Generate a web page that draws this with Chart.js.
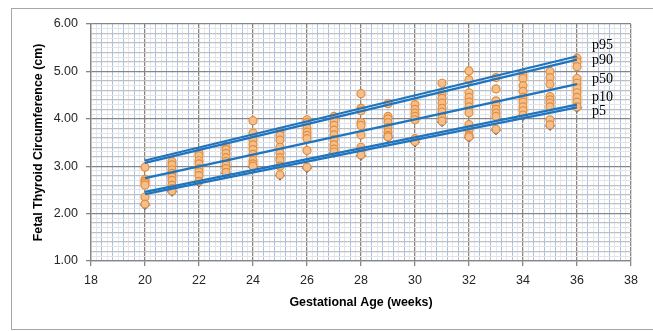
<!DOCTYPE html>
<html><head><meta charset="utf-8">
<script src="https://cdn.jsdelivr.net/npm/chart.js@4.4.1/dist/chart.umd.min.js"></script>
<style>
html,body{margin:0;padding:0;background:#fff;}
#wrap{position:relative;width:653px;height:331px;overflow:hidden;}
#frame{position:absolute;left:11px;top:8px;width:720px;height:320px;border:1px solid #A6A6A6;pointer-events:none;}
</style></head><body>
<div id="wrap"><canvas id="c" width="653" height="331"></canvas><div id="frame"></div></div>
<script>
// Gestational weeks (x categories)
const weeks = [20,21,22,23,24,25,26,27,28,29,30,31,32,33,34,35,36];
// Fetal thyroid circumference measurements (cm) per week
const wk20 = [2.98, 2.72, 2.68, 2.64, 2.60, 2.35, 2.20];
const wk21 = [3.10, 3.03, 2.92, 2.85, 2.77, 2.70, 2.60, 2.53, 2.48];
const wk22 = [3.28, 3.22, 3.12, 3.05, 2.95, 2.88, 2.80, 2.68];
const wk23 = [3.42, 3.35, 3.27, 3.18, 3.10, 3.02, 2.95, 2.87];
const wk24 = [3.96, 3.70, 3.55, 3.45, 3.35, 3.25, 3.12, 3.05, 3.00];
const wk25 = [3.73, 3.65, 3.55, 3.40, 3.28, 3.18, 3.12, 3.00, 2.82];
const wk26 = [3.98, 3.92, 3.80, 3.72, 3.65, 3.58, 3.33, 2.98];
const wk27 = [4.05, 3.95, 3.86, 3.76, 3.66, 3.56, 3.45, 3.36, 3.30];
const wk28 = [4.53, 4.22, 4.17, 3.92, 3.86, 3.66, 3.40, 3.32, 3.24];
const wk29 = [4.32, 4.05, 4.00, 3.92, 3.82, 3.72, 3.65, 3.62];
const wk30 = [4.30, 4.20, 4.12, 4.05, 3.98, 3.58, 3.52];
const wk31 = [4.75, 4.53, 4.43, 4.33, 4.22, 4.14, 4.03, 3.95];
const wk32 = [5.01, 4.82, 4.55, 4.45, 4.35, 4.25, 4.13, 3.88, 3.76, 3.65, 3.62];
const wk33 = [4.87, 4.63, 4.38, 4.30, 4.20, 4.12, 4.05, 3.78];
const wk34 = [4.93, 4.85, 4.70, 4.58, 4.45, 4.35, 4.25, 4.17, 4.08];
const wk35 = [5.00, 4.87, 4.73, 4.47, 4.40, 4.33, 4.25, 3.98, 3.87];
const wk36 = [5.28, 5.20, 5.10, 4.85, 4.75, 4.65, 4.55, 4.45, 4.35, 4.25];
const weekValues = [wk20, wk21, wk22, wk23, wk24, wk25, wk26, wk27, wk28, wk29, wk30, wk31, wk32, wk33, wk34, wk35, wk36];
// Second (blue diamond) series, mostly hidden under the circles
const lowValues = [2.18, 2.46, 2.66, 2.85, 2.98, 2.80, 2.96, 3.28, 3.22, 3.60, 3.50, 3.93, 3.60, 3.76, 4.06, 3.85, 4.23];
// Percentile lines (value at week 20 and week 36)
const lineWeeks = [20, 36];
const p95 = [3.12, 5.32];
const p90 = [3.07, 5.25];
const p50 = [2.75, 4.73];
const p10 = [2.46, 4.30];
const p5  = [2.41, 4.24];
const pctNames = ['p95', 'p90', 'p50', 'p10', 'p5'];
const pctLines = [p95, p90, p50, p10, p5];
const pctLabelAt = [5.48, 5.16, 4.76, 4.38, 4.08];
// Axis tick labels
const xTickLabels = ['18','20','22','24','26','28','30','32','34','36','38'];
const yTickLabels = ['1.00','2.00','3.00','4.00','5.00','6.00'];

const scatterPts = [];
weeks.forEach((w, i) => weekValues[i].forEach(v => scatterPts.push({x: w, y: v})));
const lowPts = weeks.map((w, i) => ({x: w, y: lowValues[i]}));

const lineSets = pctLines.map((arr, i) => ({
  label: pctNames[i],
  data: lineWeeks.map((w, j) => ({x: w, y: arr[j]})),
  showLine: true, pointRadius: 0, borderColor: '#1E74BE', borderWidth: 2.25, fill: false
}));

const xMajor = xTickLabels.map(Number);
const yMajor = yTickLabels.map(Number);
const near = (a, b) => Math.abs(a - b) < 1e-6;
const isXMajor = v => xMajor.some(m => near(m, v));
const isYMajor = v => yMajor.some(m => near(m, v));
const isXMid = v => near(Math.round(v / 0.4) * 0.4, v);
const isYMid = v => near(Math.round(v / 0.2) * 0.2, v);

const labelPlugin = {
  id: 'pctLabels',
  afterDatasetsDraw(chart) {
    const {ctx, scales: {x, y}} = chart;
    ctx.save();
    ctx.font = '14px "Liberation Serif"';
    ctx.fillStyle = '#000';
    ctx.textAlign = 'left';
    ctx.textBaseline = 'alphabetic';
    const px = x.getPixelForValue(lineWeeks[1]) + 15;
    pctNames.forEach((n, i) => ctx.fillText(n, px, y.getPixelForValue(pctLabelAt[i])));
    ctx.restore();
  }
};

new Chart(document.getElementById('c'), {
  type: 'scatter',
  data: {
    datasets: [
      ...lineSets,
      { label: 'measured', data: scatterPts, pointStyle: 'circle', pointRadius: 4,
        backgroundColor: '#F5BF8C', borderColor: '#E38D3B', borderWidth: 1.2 },
      { label: 'low', data: lowPts, pointStyle: 'rectRot', pointRadius: 4.5,
        backgroundColor: '#4A6CB0', borderColor: '#3F5F9F', borderWidth: 1 }
    ]
  },
  options: {
    responsive: false, animation: false,
    layout: { padding: { left: 12, right: 22, top: 24, bottom: 0 } },
    plugins: { legend: { display: false }, tooltip: { enabled: false } },
    scales: {
      x: {
        type: 'linear', min: 18, max: 38, z: 0,
        afterBuildTicks: s => { const t = []; for (let k = 0; k <= 100; k++) t.push({value: Math.round((18 + k * 0.2) * 10) / 10}); s.ticks = t; },
        afterFit: s => { s.height = 70; },
        ticks: { autoSkip: false, maxRotation: 0, padding: 7, color: '#262626',
          font: { family: 'Liberation Sans', size: 12.5 },
          callback: v => isXMajor(v) ? xTickLabels[xMajor.findIndex(m => near(m, v))] : '' },
        grid: {
          color: c => !c.tick ? '#868686' : isXMajor(c.tick.value) ? '#868686' : isXMid(c.tick.value) ? '#A9C2EA' : '#E1E9F6',
          lineWidth: c => (c.tick && isXMajor(c.tick.value)) ? 1.3 : 1,
          tickColor: c => (c.tick && isXMajor(c.tick.value)) ? '#868686' : 'rgba(0,0,0,0)',
          tickLength: 5
        },
        border: { display: true, color: '#868686', width: 1.3 },
        title: { display: true, text: 'Gestational Age (weeks)', color: '#000',
          font: { family: 'Liberation Sans', size: 12.4, weight: 'bold' }, padding: { top: 0, bottom: 20.5 } }
      },
      y: {
        type: 'linear', min: 1, max: 6, z: -1,
        afterBuildTicks: s => { const t = []; for (let k = 0; k <= 50; k++) t.push({value: Math.round((1 + k * 0.1) * 10) / 10}); s.ticks = t; },
        afterFit: s => { s.width = 79; },
        ticks: { autoSkip: false, padding: 8, color: '#262626',
          font: { family: 'Liberation Sans', size: 12.5 },
          callback: v => isYMajor(v) ? yTickLabels[yMajor.findIndex(m => near(m, v))] : '' },
        grid: {
          color: c => !c.tick ? '#868686' : isYMajor(c.tick.value) ? '#868686' : isYMid(c.tick.value) ? '#C0C0C0' : '#E4E4E4',
          lineWidth: c => !c.tick ? 1 : isYMajor(c.tick.value) ? 1.3 : isYMid(c.tick.value) ? 1.3 : 1,
          tickColor: c => (c.tick && isYMajor(c.tick.value)) ? '#868686' : 'rgba(0,0,0,0)',
          tickLength: 5
        },
        border: { display: true, color: '#868686', width: 1.3 },
        title: { display: true, text: 'Fetal Thyroid Circumference (cm)', color: '#000',
          font: { family: 'Liberation Sans', size: 12.4, weight: 'bold' }, padding: { top: 19.5, bottom: 0 } }
      }
    }
  },
  plugins: [labelPlugin]
});
</script>
</body></html>
